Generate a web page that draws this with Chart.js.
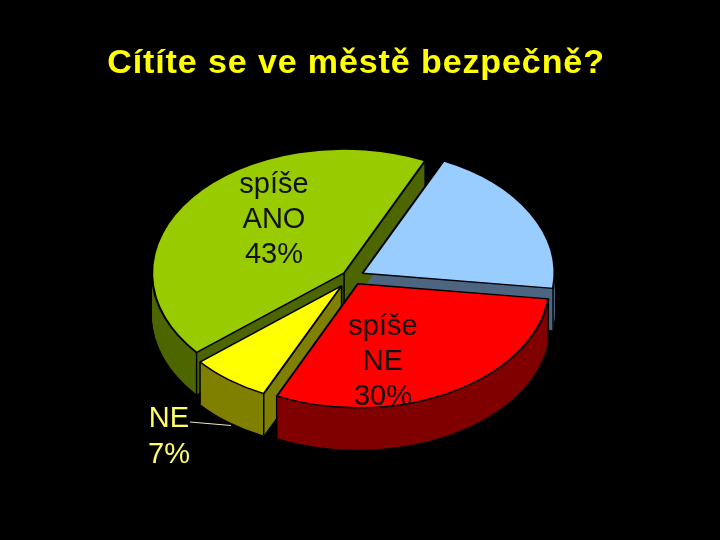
<!DOCTYPE html>
<html>
<head>
<meta charset="utf-8">
<title>Cítíte se ve městě bezpečně?</title>
<script src="https://cdn.jsdelivr.net/npm/chart.js@4"></script>
<style>
  html, body { margin: 0; padding: 0; background: #000; }
  canvas { display: block; }
</style>
</head>
<body>
<canvas id="myChart" width="720" height="540"></canvas>
<script>
const titleText = 'Cítíte se ve městě bezpečně?';
const categories = ['ANO', 'spíše NE', 'NE', 'spíše ANO'];
const values = [20, 30, 7, 43];
const topColors = ['#99ccff', '#ff0000', '#ffff00', '#99cc00'];
const wallColors = ['#4d6680', '#800000', '#808000', '#4d6600'];

// how the flat pie gets tilted on the page
const centerX = 352, centerY = 277, tilt = 0.646, depth = 42;
const explode = [12, 12, 17, 10];
const shrink = [1, 1, 0.96, 1];
const wallOrder = [0, 3, 2, 1];

// text lines for the labelled slices, x is the centre of the text
const sliceLabels = [
    { i: 3, x: 274, y: 185, gap: 35, color: '#111' },
    { i: 1, x: 383, y: 327, gap: 35, color: '#111' },
    { i: 2, x: 169, y: 419, gap: 36, color: '#ffff66' }
];

function apex(el, i) {
    const mid = (el.startAngle + el.endAngle) / 2;
    return {
        x: centerX + Math.cos(mid) * explode[i],
        y: centerY + Math.sin(mid) * explode[i] * tilt
    };
}

function drawArc(ctx, el, i, yShift, fill, line, lineWidth) {
    const keep = el.options;
    const a = apex(el, i);
    ctx.save();
    ctx.translate(a.x, a.y + yShift);
    ctx.scale(shrink[i], tilt * shrink[i]);
    ctx.translate(-el.x, -el.y);
    el.options = Object.assign(Object.create(keep), {
        backgroundColor: fill, borderColor: line, borderWidth: lineWidth,
        offset: 0, spacing: 0, borderAlign: 'center', borderRadius: 0
    });
    el.draw(ctx);
    el.options = keep;
    ctx.restore();
}

const pie3d = {
    id: 'pie3d',
    beforeDraw(chart) {
        chart.ctx.letterSpacing = '0.9px';
    },
    beforeDatasetsDraw(chart) {
        const ctx = chart.ctx;
        ctx.letterSpacing = '0px';
        const arcs = chart.getDatasetMeta(0).data;
        wallOrder.forEach(i => {
            const el = arcs[i];
            for (let d = depth; d > 0; d--) {
                drawArc(ctx, el, i, d, wallColors[i], wallColors[i], 0);
            }
            // corner edges of the wall
            const a = apex(el, i);
            const r = el.outerRadius * shrink[i];
            const pts = [a];
            [el.startAngle, el.endAngle].forEach(t => pts.push({
                x: a.x + Math.cos(t) * r,
                y: a.y + Math.sin(t) * r * tilt
            }));
            ctx.strokeStyle = '#000';
            ctx.lineWidth = 1.5;
            pts.forEach(p => {
                ctx.beginPath();
                ctx.moveTo(p.x, p.y);
                ctx.lineTo(p.x, p.y + depth);
                ctx.stroke();
            });
        });
        wallOrder.forEach(i => drawArc(ctx, arcs[i], i, 0, topColors[i], '#000', 2.2));
        return false;
    },
    afterDraw(chart) {
        const ctx = chart.ctx;
        ctx.save();
        ctx.font = '29px "Liberation Sans", Arial, sans-serif';
        ctx.textAlign = 'center';
        ctx.textBaseline = 'middle';
        sliceLabels.forEach(l => {
            const lines = categories[l.i].split(' ').concat(values[l.i] + '%');
            ctx.fillStyle = l.color;
            lines.forEach((t, n) => ctx.fillText(t, l.x, l.y + n * l.gap));
        });
        // leader line of the NE label
        ctx.strokeStyle = '#e8e8c0';
        ctx.lineWidth = 1;
        ctx.beginPath();
        ctx.moveTo(190, 422);
        ctx.lineTo(231, 425.5);
        ctx.stroke();
        ctx.restore();
    }
};

new Chart(document.getElementById('myChart').getContext('2d'), {
    type: 'pie',
    data: {
        labels: categories,
        datasets: [{ data: values, backgroundColor: topColors, borderWidth: 0 }]
    },
    options: {
        responsive: false,
        animation: false,
        events: [],
        rotation: 25,
        radius: 192,
        layout: { padding: { right: 8 } },
        plugins: {
            legend: { display: false },
            tooltip: { enabled: false },
            title: {
                display: true,
                text: titleText,
                color: '#ffff00',
                font: { family: '"Liberation Sans", Arial, sans-serif', size: 34, weight: 'bold' },
                padding: { top: 43, bottom: 20 }
            }
        }
    },
    plugins: [pie3d]
});
</script>
</body>
</html>
